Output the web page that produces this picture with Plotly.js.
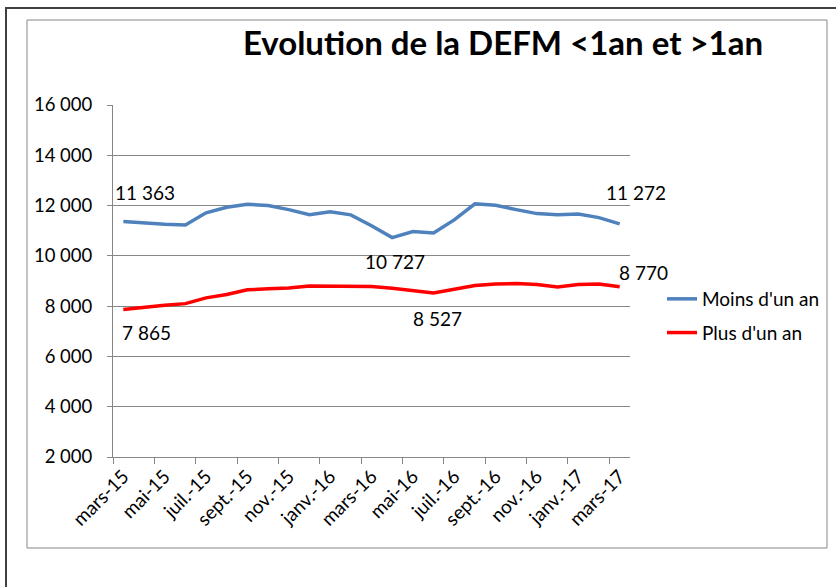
<!DOCTYPE html>
<html>
<head>
<meta charset="utf-8">
<script src="https://cdn.plot.ly/plotly-3.0.1.min.js"></script>
<style>html,body{margin:0;padding:0;background:#fff;}#chart{width:836px;height:587px;}</style>
</head>
<body>
<div id="chart"></div>
<script>
const months = ["mars-15","avr.-15","mai-15","juin-15","juil.-15","août-15","sept.-15","oct.-15","nov.-15","déc.-15","janv.-16","févr.-16","mars-16","avr.-16","mai-16","juin-16","juil.-16","août-16","sept.-16","oct.-16","nov.-16","déc.-16","janv.-17","févr.-17","mars-17"];
const moinsUnAn = [11363,11300,11260,11230,11710,11930,12050,12000,11840,11640,11750,11630,11200,10727,10970,10910,11430,12070,12010,11840,11680,11630,11660,11520,11272];
const plusUnAn = [7865,7960,8040,8100,8330,8460,8650,8690,8720,8800,8790,8780,8780,8710,8610,8527,8670,8820,8880,8900,8860,8760,8860,8880,8770];
const seriesNames = ["Moins d'un an","Plus d'un an"];
const title = "Evolution de la DEFM <1an et >1an";

// labelled points: [series, index, xshift, yshift(px, down positive)]
const labelled = [[0,0,22,-29],[0,24,16,-31],[0,13,3,24],[1,0,23,23],[1,15,4,26],[1,24,24,-14]];

const fmt = v => String(v).replace(/\B(?=(\d{3})+(?!\d))/g, ' ');
const series = [moinsUnAn, plusUnAn];
const FONT = "Lato, 'Open Sans', sans-serif";
const FS = 19;

const traces = [
  {x: months, y: moinsUnAn, name: seriesNames[0], type: 'scatter', mode: 'lines',
   line: {color: '#4F81BD', width: 3.5}, legendgroup: 'a'},
  {x: months, y: plusUnAn, name: seriesNames[1], type: 'scatter', mode: 'lines',
   line: {color: '#FF0000', width: 3.5}, legendgroup: 'b'}
];

const annotations = labelled.map(([s,i,dx,dy]) => ({
  x: months[i], y: series[s][i], xref: 'x', yref: 'y', text: fmt(series[s][i]),
  showarrow: false, xshift: dx, yshift: -dy, font: {family: FONT, size: FS, color: '#000'}
}));

// plot area in px: x 113..630, y 105..457
const px = p => (p - 113) / 517;
const py = p => (457 - p) / 352;
const shapes = [
  {type: 'rect', xref: 'paper', yref: 'paper', x0: px(6), x1: px(845), y0: py(600), y1: py(8),
   line: {color: '#404040', width: 2}, fillcolor: 'rgba(0,0,0,0)'},
  {type: 'rect', xref: 'paper', yref: 'paper', x0: px(27), x1: px(827), y0: py(548), y1: py(20),
   line: {color: '#868686', width: 1}, fillcolor: 'rgba(0,0,0,0)'}
];

const layout = {
  width: 836, height: 587,
  margin: {l: 113, r: 206, t: 105, b: 130},
  paper_bgcolor: '#fff', plot_bgcolor: '#fff',
  separators: ', ',
  font: {family: FONT, size: FS, color: '#000'},
  title: {text: '<b>' + title.replace('<','&lt;').replace('>','&gt;') + '</b>', x: 503/836, xref: 'container', xanchor: 'center',
          y: 1 - 43/587, yref: 'container', yanchor: 'middle', font: {family: FONT, size: 33, color: '#000', weight: 900}},
  xaxis: {type: 'category', range: [-0.5, 24.5], dtick: 2, tickson: 'boundaries', ticks: 'outside', ticklen: 6,
          tickcolor: '#868686', showline: true, linecolor: '#868686', linewidth: 1, showgrid: false,
          tickangle: -45, tickfont: {family: FONT, size: FS, color: '#000'}, zeroline: false, fixedrange: true},
  yaxis: {range: [2000, 16000], dtick: 2000, tick0: 0, tickformat: ',d', ticks: 'outside', ticklen: 5,
          tickcolor: '#868686', showline: true, linecolor: '#868686', linewidth: 1, showgrid: true,
          gridcolor: '#868686', gridwidth: 1, zeroline: false, ticklabelstandoff: 11,
          tickfont: {family: FONT, size: 18.5, color: '#000'}},
  showlegend: true,
  legend: {x: px(662), xanchor: 'left', y: py(280), yanchor: 'top', bgcolor: 'rgba(0,0,0,0)', borderwidth: 0,
           tracegroupgap: 6, font: {family: FONT, size: FS, color: '#000'}},
  annotations: annotations,
  shapes: shapes
};

Plotly.newPlot('chart', traces, layout, {displayModeBar: false, staticPlot: true});
</script>
</body>
</html>
